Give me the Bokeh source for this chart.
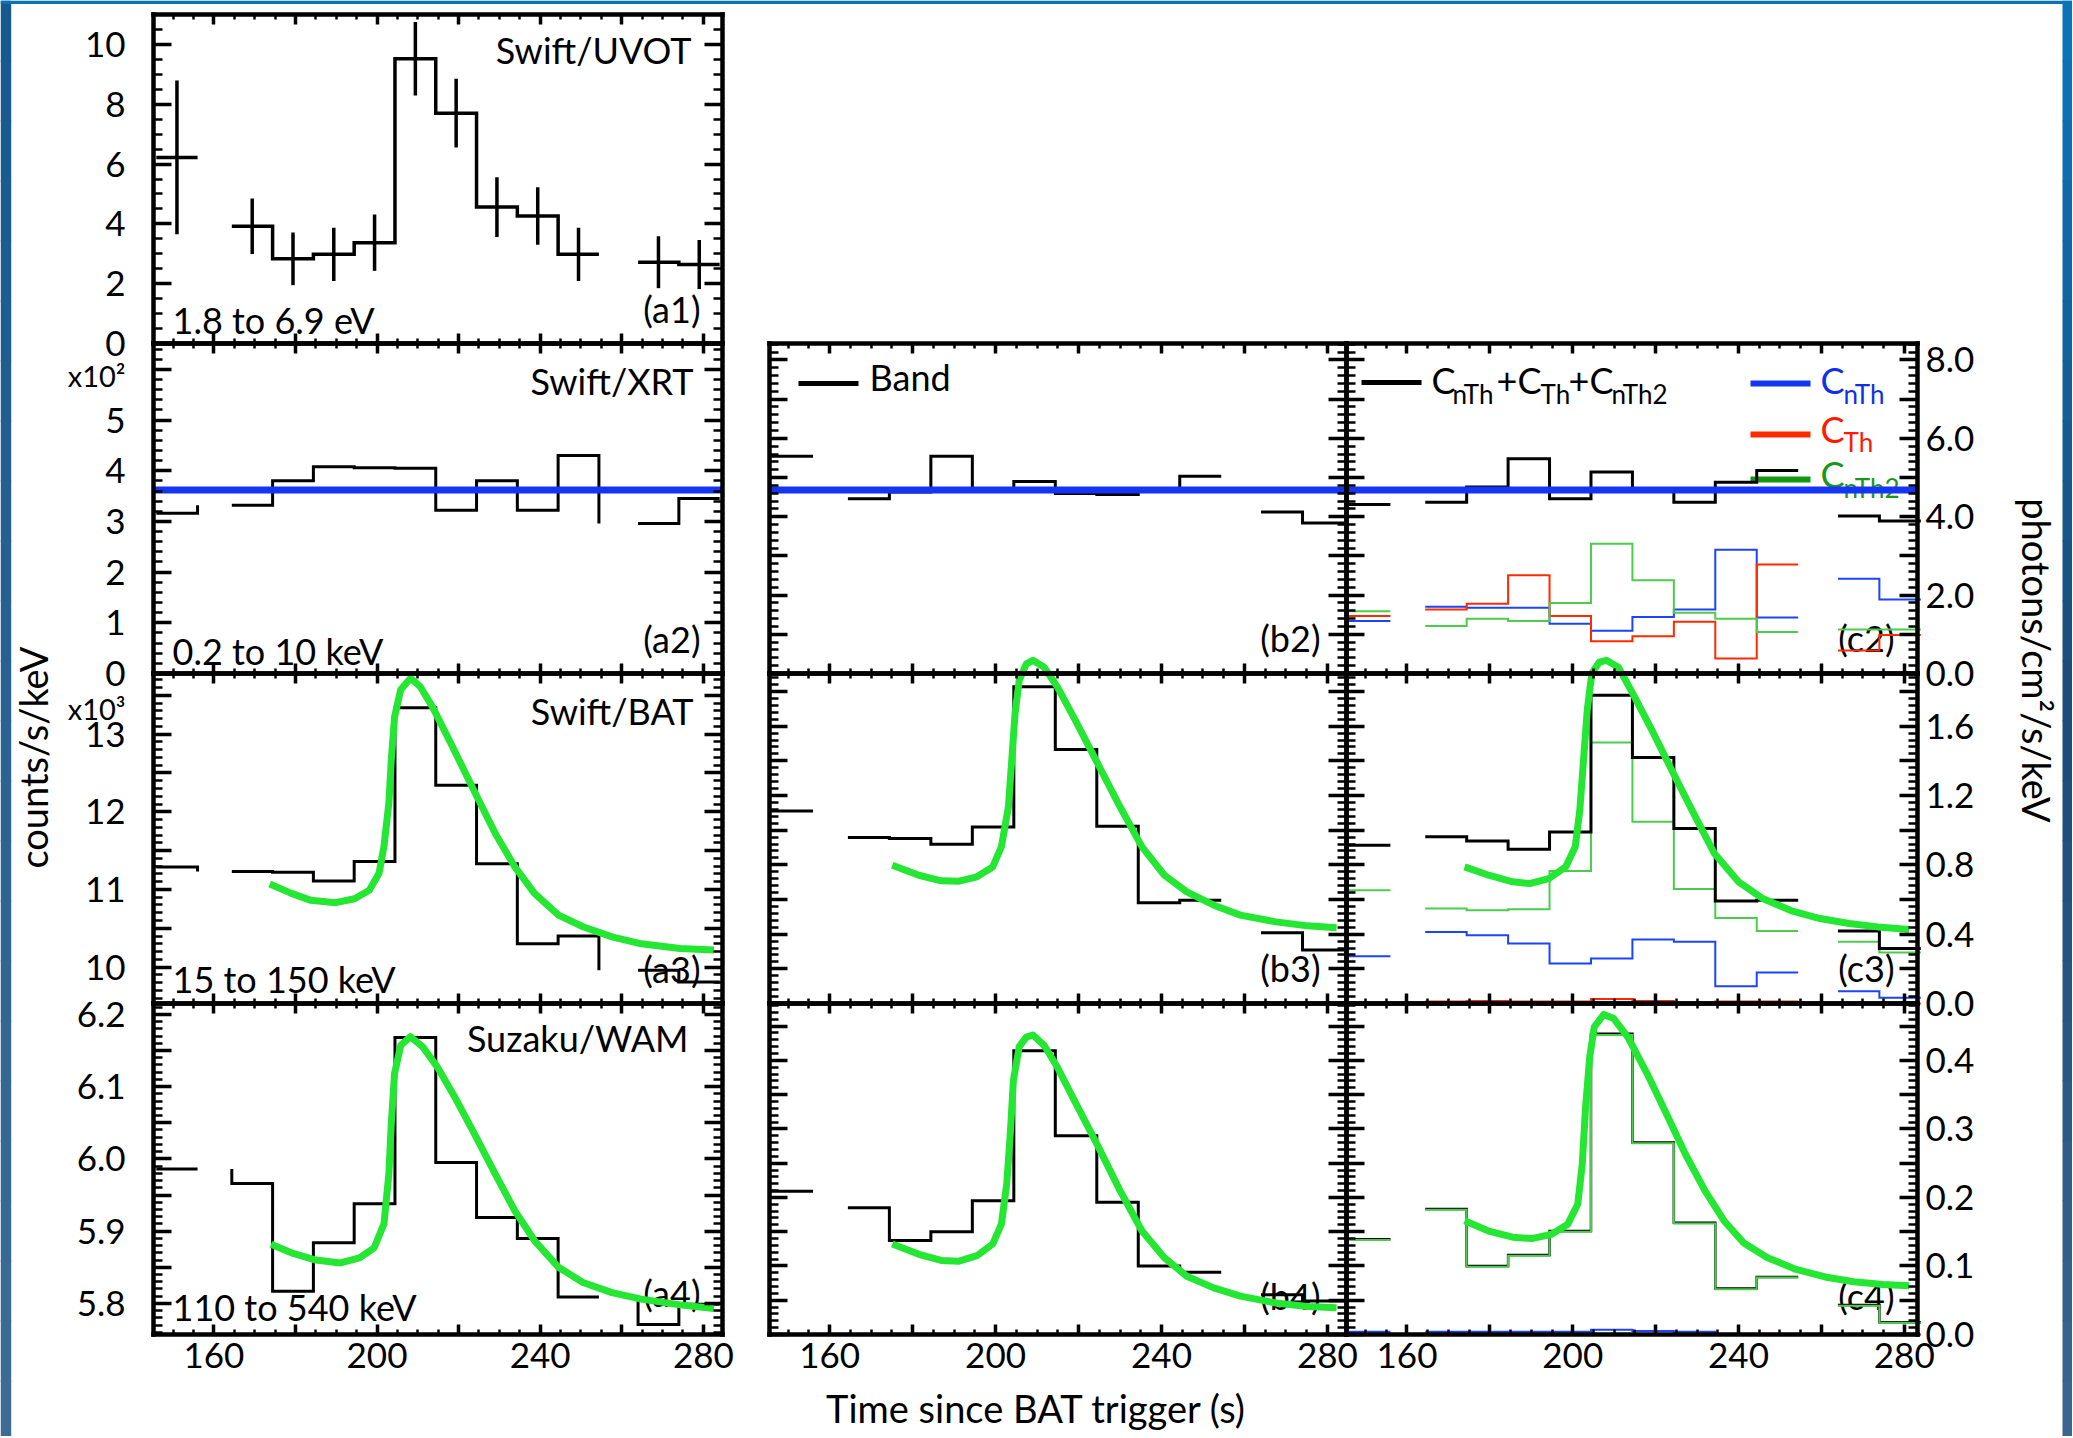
import math
from bokeh.plotting import figure
from bokeh.models import Range1d, LinearAxis, FixedTicker, Label
from bokeh.embed import file_html
from bokeh.resources import INLINE

# ======================= DATA =======================
# time bins (s since BAT trigger)
bin_lo = [145.9, 164.4, 174.4, 184.4, 194.4, 204.4, 214.4, 224.4, 234.4, 244.4, 264.0, 274.0]
bin_hi = [156.0, 174.4, 184.4, 194.4, 204.4, 214.4, 224.4, 234.4, 244.4, 254.4, 274.0, 284.0]

# (a1) Swift/UVOT counts/s/keV
uvot_rate = [6.22, 3.92, 2.83, 2.98, 3.37, 9.52, 7.70, 4.56, 4.26, 2.98, 2.72, 2.64]
uvot_err = [2.57, 0.93, 0.88, 0.89, 0.94, 1.23, 1.15, 1.00, 0.96, 0.89, 0.87, 0.82]
# (a2) Swift/XRT (x10^2)
xrt_rate = [3.16, 3.32, 3.80, 4.08, 4.06, 4.05, 3.22, 3.80, 3.22, 4.30, 2.96, 3.45]
xrt_model = 3.62
# (a3) Swift/BAT (x10^3)
bat_rate = [11.29, 11.23, 11.22, 11.11, 11.36, 13.34, 12.34, 11.33, 10.30, 10.40, 9.96, 9.81]
bat_curve_t = [173.7, 179.0, 183.8, 189.8, 194.5, 198.1, 200.5, 201.7, 202.9, 203.5, 204.3, 205.8, 208.2,
               210.6, 213.6, 218.3, 223.7, 229.0, 233.8, 238.6, 244.5, 250.5, 257.6, 264.8, 274.3, 282.6]
bat_curve = [11.07, 10.95, 10.86, 10.83, 10.88, 10.99, 11.21, 11.55, 12.11, 12.67, 13.22, 13.57, 13.72,
             13.61, 13.35, 12.86, 12.28, 11.72, 11.29, 10.95, 10.67, 10.52, 10.39, 10.30, 10.24, 10.22]
# (a4) Suzaku/WAM
wam_rate = [5.986, 5.966, 5.817, 5.884, 5.938, 6.168, 5.995, 5.919, 5.890, 5.809, 5.771, 5.799]
wam_curve_t = [174.0, 179.0, 185.0, 191.0, 195.7, 199.3, 201.7, 202.9, 203.5, 204.3, 205.8, 208.2, 211.2,
               214.8, 219.5, 224.3, 229.0, 233.8, 238.6, 244.5, 250.5, 257.6, 264.8, 274.3, 282.6]
wam_curve = [5.882, 5.870, 5.860, 5.856, 5.863, 5.877, 5.910, 5.979, 6.049, 6.118, 6.157, 6.169, 6.155,
             6.127, 6.081, 6.030, 5.979, 5.928, 5.887, 5.850, 5.829, 5.815, 5.806, 5.798, 5.793]

# (b) Band model, photons/cm2/s/keV
band_b2 = [5.54, 4.46, 4.63, 5.54, 4.66, 4.90, 4.59, 4.57, 4.67, 5.03, 4.12, 3.84]
band_b3 = [1.110, 0.958, 0.952, 0.919, 1.019, 1.827, 1.465, 1.023, 0.581, 0.596, 0.408, 0.308]
band_b4 = [0.209, 0.185, 0.137, 0.150, 0.195, 0.414, 0.290, 0.193, 0.100, 0.091, 0.058, 0.049]
b3_curve_t = [175.1, 181.5, 186.9, 191.2, 195.5, 199.3, 201.4, 203.1, 203.9, 204.7, 205.7, 207.4, 209.0,
              211.7, 214.9, 219.2, 224.6, 230.0, 235.3, 240.7, 246.1, 252.6, 259.0, 267.6, 275.2, 282.2]
b3_curve = [0.798, 0.740, 0.708, 0.706, 0.731, 0.788, 0.904, 1.135, 1.404, 1.673, 1.865, 1.96, 1.98,
            1.94, 1.827, 1.635, 1.385, 1.135, 0.904, 0.740, 0.644, 0.567, 0.510, 0.471, 0.448, 0.437]
b4_curve_t = [175.1, 181.5, 186.9, 191.2, 195.5, 199.3, 201.4, 202.7, 203.6, 204.3, 205.7, 207.4, 209.0,
              211.7, 214.9, 219.2, 224.6, 230.0, 235.3, 240.7, 246.1, 252.6, 259.0, 267.6, 275.2, 282.2]
b4_curve = [0.132, 0.117, 0.108, 0.107, 0.115, 0.132, 0.161, 0.220, 0.298, 0.371, 0.420, 0.434, 0.437,
            0.422, 0.390, 0.339, 0.276, 0.210, 0.151, 0.112, 0.085, 0.068, 0.056, 0.046, 0.041, 0.039]

# (c) C_nTh + C_Th + C_nTh2 model, photons/cm2/s/keV
tot_c2 = [4.31, 4.37, 4.76, 5.48, 4.46, 5.14, 4.67, 4.37, 4.88, 5.18, 4.02, 3.89]
nth_c2 = [1.34, 1.70, 1.68, 1.68, 1.27, 1.09, 1.44, 1.63, 3.16, 1.43, 2.42, 1.89]
th_c2 = [1.47, 1.63, 1.78, 2.51, 1.47, 0.82, 0.95, 1.32, 0.38, 2.78, 0.59, 0.98]
nth2_c2 = [1.59, 1.21, 1.40, 1.34, 1.80, 3.31, 2.38, 1.55, 1.40, 1.06, 1.12, 1.12]

tot_c3 = [0.913, 0.962, 0.938, 0.890, 0.990, 1.779, 1.419, 1.010, 0.592, 0.596, 0.419, 0.317]
nth_c3 = [0.273, 0.413, 0.394, 0.346, 0.231, 0.260, 0.369, 0.356, 0.100, 0.179, 0.071, 0.033]
th_c3 = [0.0, 0.012, 0.014, 0.012, 0.012, 0.026, 0.014, 0.0, 0.012, 0.012, 0.0, 0.0]
nth2_c3 = [0.654, 0.548, 0.538, 0.544, 0.765, 1.506, 1.048, 0.660, 0.494, 0.419, 0.356, 0.294]
c3_curve_t = [173.9, 179.7, 185.5, 189.6, 194.2, 198.3, 200.6, 201.7, 202.6, 203.5, 204.6, 206.4, 208.1,
              211.0, 214.5, 219.1, 224.3, 229.6, 234.2, 240.0, 245.8, 252.8, 259.7, 266.7, 273.6, 281.2]
c3_curve = [0.788, 0.740, 0.702, 0.692, 0.721, 0.788, 0.904, 1.115, 1.404, 1.692, 1.904, 1.97, 1.98,
            1.94, 1.788, 1.577, 1.327, 1.077, 0.865, 0.702, 0.606, 0.535, 0.490, 0.462, 0.442, 0.427]

tot_c4 = [0.139, 0.183, 0.100, 0.116, 0.151, 0.439, 0.280, 0.163, 0.067, 0.084, 0.043, 0.018]
nth_c4 = [0.004, 0.004, 0.004, 0.004, 0.004, 0.007, 0.005, 0.004, 0.0, 0.0, 0.0, 0.0]
th_c4 = [0.0, 0.0, 0.0, 0.0, 0.0, 0.0, 0.0, 0.0, 0.0, 0.0, 0.0, 0.0]
nth2_c4 = [0.138, 0.182, 0.099, 0.115, 0.150, 0.437, 0.279, 0.162, 0.066, 0.083, 0.042, 0.017]
c4_curve_t = [173.9, 179.7, 185.5, 190.1, 194.8, 198.8, 201.2, 202.3, 203.1, 204.1, 205.2, 207.5, 209.9,
              213.3, 218.0, 222.6, 227.2, 231.9, 236.5, 241.2, 247.0, 253.9, 260.9, 267.8, 274.8, 281.2]
c4_curve = [0.166, 0.151, 0.142, 0.140, 0.146, 0.161, 0.190, 0.249, 0.332, 0.405, 0.449, 0.467, 0.461,
            0.434, 0.380, 0.322, 0.263, 0.210, 0.166, 0.134, 0.112, 0.095, 0.084, 0.077, 0.073, 0.071]

# tick labels
x_major = [160, 180, 200, 220, 240, 260, 280]
x_labels = {160: "160", 200: "200", 240: "240", 280: "280"}

# ======================= LAYOUT / STYLE =======================
W, H = 2072, 1436
FONT = "Lato"
BLACK = "#000000"
GREEN_THICK = "#25e633"
BLUE_THICK = "#1535f5"
BLUE_THIN = "#1a44ff"
RED_THIN = "#ff2a00"
GREEN_THIN = "#4ccc4c"

# panel edges in page pixels; the plot frame covers the whole canvas
COLS = {"a": (153, 722), "b": (769, 1346), "c": (1346, 1917)}
ROWS = {1: (14, 343), 2: (343, 673), 3: (673, 1003), 4: (1003, 1334)}
FX0, FX1 = 0, W
FY0, FY1 = 0, H
XR = {"a": (145.2, 284.7), "b": (145.5, 284.6), "c": (145.4, 283.2)}

YS = {
    "a1": dict(row=1, range=(0.0, 11.0), major=[0, 2, 4, 6, 8, 10],
               labels={0: "0", 2: "2", 4: "4", 6: "6", 8: "8", 10: "10"}, step=0.5),
    "a2": dict(row=2, range=(0.0, 6.51), major=[0, 1, 2, 3, 4, 5, 6],
               labels={0: "0", 1: "1", 2: "2", 3: "3", 4: "4", 5: "5"}, step=0.2),
    "a3": dict(row=3, range=(9.532, 13.78), major=[10.0, 10.5, 11.0, 11.5, 12.0, 12.5, 13.0, 13.5],
               labels={10.0: "10", 11.0: "11", 12.0: "12", 13.0: "13"}, step=0.1),
    "a4": dict(row=4, range=(5.757, 6.215), major=[5.8, 5.85, 5.9, 5.95, 6.0, 6.05, 6.1, 6.15, 6.2],
               labels={5.8: "5.8", 5.9: "5.9", 6.0: "6.0", 6.1: "6.1", 6.2: "6.2"}, step=0.01),
    "p2": dict(row=2, range=(0.0, 8.42), major=[0, 1, 2, 3, 4, 5, 6, 7, 8],
               labels={0: "0.0", 2: "2.0", 4: "4.0", 6: "6.0", 8: "8.0"}, step=0.2),
    "p3": dict(row=3, range=(0.0, 1.904), major=[0.0, 0.2, 0.4, 0.6, 0.8, 1.0, 1.2, 1.4, 1.6, 1.8],
               labels={0.0: "0.0", 0.4: "0.4", 0.8: "0.8", 1.2: "1.2", 1.6: "1.6"}, step=0.04),
    "p4": dict(row=4, range=(0.0, 0.483), major=[0.0, 0.05, 0.1, 0.15, 0.2, 0.25, 0.3, 0.35, 0.4, 0.45],
               labels={0.0: "0.0", 0.1: "0.1", 0.2: "0.2", 0.3: "0.3", 0.4: "0.4"}, step=0.01),
}


def minor_ticks(lo, hi, step):
    k0 = math.ceil(lo / step - 1e-9)
    k1 = math.floor(hi / step + 1e-9)
    return [round(k * step, 6) for k in range(k0, k1 + 1)]


def ext_x(col):
    d0, d1 = XR[col]
    p0, p1 = COLS[col]
    s = (d1 - d0) / (p1 - p0)
    return Range1d(d0 - (p0 - FX0) * s, d1 + (FX1 - p1) * s)


def ext_y(key):
    d0, d1 = YS[key]["range"]
    pt, pb = ROWS[YS[key]["row"]]
    s = (d1 - d0) / (pb - pt)
    return Range1d(d0 - (FY1 - pb) * s, d1 + (pt - FY0) * s)


def groups():
    gs, cur = [], [0]
    for i in range(1, len(bin_lo)):
        if abs(bin_lo[i] - bin_hi[i - 1]) < 1e-9:
            cur.append(i)
        else:
            gs.append(cur)
            cur = [i]
    gs.append(cur)
    return gs


def step_paths(vals, lead=False, trail=False):
    gs = groups()
    xs, ys = [], []
    for gi, g in enumerate(gs):
        x, y = [], []
        if lead and gi > 0:
            x.append(bin_lo[g[0]])
            y.append(vals[gs[gi - 1][-1]])
        for i in g:
            x += [bin_lo[i], bin_hi[i]]
            y += [vals[i], vals[i]]
        if trail and gi < len(gs) - 1:
            x.append(bin_hi[g[-1]])
            y.append(vals[gs[gi + 1][0]])
        xs.append(x)
        ys.append(y)
    return xs, ys


# ---------- the single figure (default ranges = page pixels) ----------
p = figure(width=W, height=H, output_backend="svg", toolbar_location=None,
           x_range=Range1d(FX0, FX1), y_range=Range1d(FY1, FY0),
           x_axis_location=None, y_axis_location=None, min_border=0,
           min_border_left=0, min_border_right=0, min_border_top=0, min_border_bottom=0)
p.outline_line_color = None
p.background_fill_color = "white"
p.border_fill_color = "white"
p.xgrid.visible = False
p.ygrid.visible = False
p.extra_x_ranges = {"x" + c: ext_x(c) for c in COLS}
p.extra_y_ranges = {k: ext_y(k) for k in YS}


# slide frame (blue edges, vertical gradient in bands)
def grad(c0, c1, n):
    a = [int(c0[i:i + 2], 16) for i in (1, 3, 5)]
    b = [int(c1[i:i + 2], 16) for i in (1, 3, 5)]
    return ["#%02x%02x%02x" % tuple(int(round(a[k] + (b[k] - a[k]) * j / (n - 1))) for k in range(3))
            for j in range(n)]


NB = 24
band_h = 1440 / NB
tops = [j * band_h for j in range(NB)]
bots = [min(1440, (j + 1) * band_h + 1) for j in range(NB)]
p.quad(left=[0] * NB, right=[10.7] * NB, top=tops, bottom=bots,
       fill_color=grad("#16598f", "#3d6b93", NB), line_color=None)
right_cols = grad("#0a74ba", "#1b4c7a", NB // 2) + grad("#1b4c7a", "#3a6590", NB - NB // 2)
p.quad(left=[2062] * NB, right=[2073] * NB, top=tops, bottom=bots,
       fill_color=right_cols, line_color=None)
p.quad(left=[0], right=[2073], top=[0], bottom=[3.5], fill_color="#0b72b8", line_color=None)


def style_axis(ax, is_x, show, labels, standoff):
    ax.axis_line_width = 4.5
    ax.axis_line_color = BLACK
    ax.axis_line_cap = "square"
    ax.major_tick_line_width = 3.5
    ax.minor_tick_line_width = 2.5
    ax.major_tick_in = 10 if is_x else 18
    ax.minor_tick_in = 5 if is_x else 9
    ax.major_tick_out = 0
    ax.minor_tick_out = 0
    if show:
        ax.major_label_overrides = labels
        ax.major_label_text_font = FONT
        ax.major_label_text_font_size = "35px"
        ax.major_label_text_color = BLACK
        ax.major_label_standoff = standoff
    else:
        ax.major_label_text_font_size = "0px"
        ax.major_label_text_color = None
        ax.major_label_standoff = 0


def add_frame(col, key, left_labels=False, right_labels=False, bottom_labels=False):
    xd0, xd1 = XR[col]
    yd0, yd1 = YS[key]["range"]
    spec = YS[key]
    xt = FixedTicker(ticks=[t for t in x_major if xd0 <= t <= xd1], minor_ticks=minor_ticks(xd0, xd1, 5))
    yt = FixedTicker(ticks=[t for t in spec["major"] if yd0 <= t <= yd1],
                     minor_ticks=minor_ticks(yd0, yd1, spec["step"]))
    xlab = {t: x_labels.get(t, "") for t in x_major}
    ylab = {t: spec["labels"].get(t, "") for t in spec["major"]}
    for side in ("below", "above", "left", "right"):
        if side in ("below", "above"):
            ax = LinearAxis(x_range_name="x" + col, y_range_name=key, ticker=xt, bounds=(xd0, xd1),
                            fixed_location=yd0 if side == "below" else yd1)
            style_axis(ax, True, side == "below" and bottom_labels, xlab, 8)
        else:
            ax = LinearAxis(x_range_name="x" + col, y_range_name=key, ticker=yt, bounds=(yd0, yd1),
                            fixed_location=xd0 if side == "left" else xd1)
            show = left_labels if side == "left" else right_labels
            style_axis(ax, False, show, ylab, 28 if side == "left" else 8)
        p.add_layout(ax, side)


def hist(col, key, vals, color=BLACK, width=3.0, lead=False, trail=False):
    xs, ys = step_paths(vals, lead, trail)
    p.multi_line(xs, ys, line_color=color, line_width=width, line_join="miter",
                 x_range_name="x" + col, y_range_name=key)


def curve(col, key, t, v):
    p.line(t, v, line_color=GREEN_THICK, line_width=7, line_join="round",
           x_range_name="x" + col, y_range_name=key)


def model_line(col, key):
    p.line(x=list(XR[col]), y=[xrt_model, xrt_model], line_color=BLUE_THICK, line_width=7,
           x_range_name="x" + col, y_range_name=key)


# ---------- texts (page pixel coordinates) ----------
def txt(s, X, Yp, align="left", size="36px", color=BLACK, angle=0.0):
    p.add_layout(Label(x=X, y=Yp, text=s, text_font=FONT, text_font_size=size, level="underlay",
                       text_color=color, text_align=align, text_baseline="middle", angle=angle))


txt("Swift/UVOT", 691, 49, "right")
txt("1.8 to 6.9 eV", 172, 319)
txt("(a1)", 700, 308, "right")
txt("Swift/XRT", 693, 380, "right")
txt("0.2 to 10 keV", 172, 650)
txt("(a2)", 700, 638, "right")
txt("Swift/BAT", 693, 710, "right")
txt("15 to 150 keV", 172, 978)
txt("(a3)", 700, 968, "right")
txt("Suzaku/WAM", 688, 1037, "right")
txt("110 to 540 keV", 172, 1306)
txt("(a4)", 700, 1292, "right")
txt("(b2)", 1320, 637, "right")
txt("(b3)", 1320, 967, "right")
txt("(b4)", 1320, 1295, "right")
txt("(c2)", 1894, 637, "right")
txt("(c3)", 1894, 967, "right")
txt("(c4)", 1894, 1295, "right")
txt("x10²", 125, 375, "right", size="29px")
txt("x10³", 125, 708, "right", size="29px")
txt("counts/s/keV", 32, 757, "center", size="38px", angle=math.pi / 2)
txt("photons/cm²/s/keV", 2036, 660, "center", size="38px", angle=-math.pi / 2)
txt("Time since BAT trigger (s)", 1036, 1407, "center", size="38px")

# legends
p.segment(x0=[798, 1361], y0=[383, 382], x1=[858, 1421], y1=[383, 382], line_color=BLACK, line_width=5)
p.segment(x0=[1750], y0=[383], x1=[1810], y1=[383], line_color=BLUE_THICK, line_width=6)
p.segment(x0=[1750], y0=[434], x1=[1810], y1=[434], line_color=RED_THIN, line_width=6)
p.segment(x0=[1750], y0=[479], x1=[1810], y1=[479], line_color="#119a11", line_width=6)
txt("Band", 869, 376)
SUB = "26px"
txt("C", 1431, 379)
txt("nTh", 1452, 393, size=SUB)
txt("+C", 1496, 379)
txt("Th", 1540, 393, size=SUB)
txt("+C", 1568, 379)
txt("nTh2", 1611, 393, size=SUB)
txt("C", 1820, 379, color="#1030e8")
txt("nTh", 1843, 393, size=SUB, color="#1030e8")
txt("C", 1820, 428, color="#ff1a00")
txt("Th", 1843, 441, size=SUB, color="#ff1a00")
txt("C", 1820, 473, color="#1a961a")
txt("nTh2", 1843, 487, size=SUB, color="#1a961a")

# ---------- column a ----------
hist("a", "a1", uvot_rate, width=3.5)
centers = [(lo + hi) / 2 for lo, hi in zip(bin_lo, bin_hi)]
p.segment(x0=centers, y0=[v - e for v, e in zip(uvot_rate, uvot_err)],
          x1=centers, y1=[v + e for v, e in zip(uvot_rate, uvot_err)],
          line_color=BLACK, line_width=3.5, x_range_name="xa", y_range_name="a1")
add_frame("a", "a1", left_labels=True)

hist("a", "a2", xrt_rate, trail=True)
model_line("a", "a2")
add_frame("a", "a2", left_labels=True)

hist("a", "a3", bat_rate, trail=True)
curve("a", "a3", bat_curve_t, bat_curve)
add_frame("a", "a3", left_labels=True)

hist("a", "a4", wam_rate, lead=True)
curve("a", "a4", wam_curve_t, wam_curve)
add_frame("a", "a4", left_labels=True, bottom_labels=True)

# ---------- column b ----------
hist("b", "p2", band_b2)
model_line("b", "a2")
add_frame("b", "p2")

hist("b", "p3", band_b3)
curve("b", "p3", b3_curve_t, b3_curve)
add_frame("b", "p3")

hist("b", "p4", band_b4)
curve("b", "p4", b4_curve_t, b4_curve)
add_frame("b", "p4", bottom_labels=True)

# ---------- column c ----------
hist("c", "p2", nth_c2, color=BLUE_THIN, width=2)
hist("c", "p2", th_c2, color=RED_THIN, width=2)
hist("c", "p2", nth2_c2, color=GREEN_THIN, width=2)
hist("c", "p2", tot_c2)
model_line("c", "a2")
add_frame("c", "p2", right_labels=True)

hist("c", "p3", nth_c3, color=BLUE_THIN, width=2)
hist("c", "p3", th_c3, color=RED_THIN, width=2)
hist("c", "p3", nth2_c3, color=GREEN_THIN, width=2)
hist("c", "p3", tot_c3)
curve("c", "p3", c3_curve_t, c3_curve)
add_frame("c", "p3", right_labels=True)

hist("c", "p4", nth_c4, color=BLUE_THIN, width=2)
hist("c", "p4", th_c4, color=RED_THIN, width=2)
hist("c", "p4", tot_c4, width=2.5)
hist("c", "p4", nth2_c4, color=GREEN_THIN, width=2)
curve("c", "p4", c4_curve_t, c4_curve)
add_frame("c", "p4", right_labels=True, bottom_labels=True)

open("out.html", "w").write(file_html(p, INLINE))
